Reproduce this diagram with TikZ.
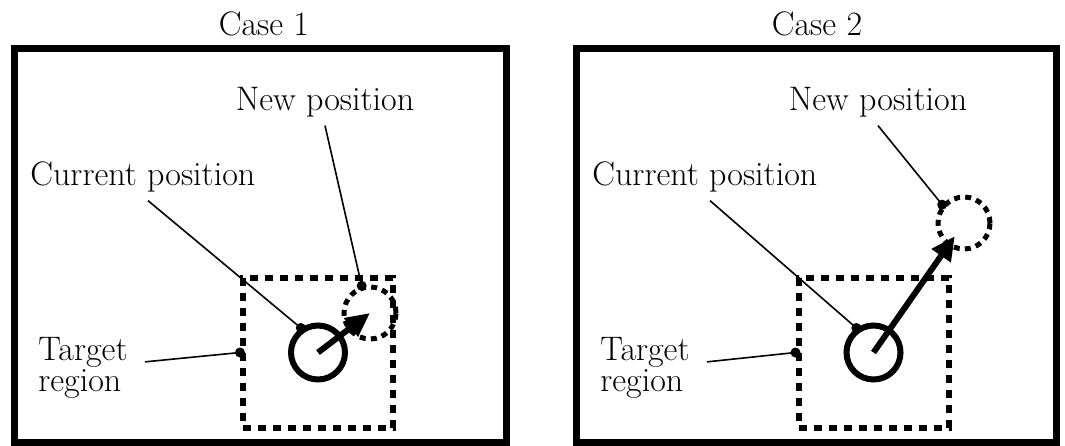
\documentclass[tikz,border=0pt]{standalone}
\usetikzlibrary{arrows.meta, positioning}

\begin{document}
\begin{tikzpicture}[x=0.5pt, y=-0.5pt, >={Triangle[length=12pt,width=11pt]},
      every node/.style={font=\fontsize{17}{14}\selectfont, inner sep=2pt},
      panel/.style={draw, line width=3.5pt, minimum height=197pt, inner sep=0pt},
      region/.style={draw, line width=3pt, dash pattern=on 4pt off 3.5pt, minimum size=75pt, inner sep=0pt},
      current/.style={circle, draw, line width=3pt, minimum size=27pt, inner sep=0pt},
      newpos/.style={circle, draw, line width=2.5pt, dash pattern=on 3pt off 2.6pt, minimum size=26pt, inner sep=0pt},
      move/.style={->, line width=3pt},
      leader/.style={line width=0.8pt}]
      \useasboundingbox (0,0) rectangle (1065,445);

      % Case 1
      \node[panel, minimum width=246pt] (box1) at (260,245) {};
      \node[anchor=base] (case1) at (264,35) {Case 1};
      \node[region] (sq1) at (318,352.5) {};
      \node[current] (cur1) at (sq1) {};
      \node[newpos] (new1) at (370,313) {};
      \node[anchor=base west] (curtxt1) at (26,185) {Current position};
      \node[anchor=base] (newtxt1) at (325,110) {New position};
      \node[anchor=north west, align=left] (trgtxt1) at (34,333) {Target\\region};
      \draw[move] (cur1.center) -- (new1.center);
      \draw[leader] ([xshift=61pt,yshift=-2.3pt]curtxt1.south west) -- (cur1.125);
      \draw[leader] ([yshift=-2.3pt]newtxt1.south) -- (new1.107);
      \draw[leader] ([xshift=6.5pt,yshift=3pt]trgtxt1.east) -- (sq1.west);
      \fill (cur1.125) circle[radius=2.5pt] (new1.107) circle[radius=2.5pt] (sq1.west) circle[radius=2.5pt];

      % Case 2
      \node[panel, minimum width=240pt] (box2) at (816,245) {};
      \node[anchor=base] (case2) at (817,35) {Case 2};
      \node[region] (sq2) at (873.5,352.5) {};
      \node[current] (cur2) at (sq2) {};
      \node[newpos] (new2) at (964,223) {};
      \node[anchor=base west] (curtxt2) at (588,185) {Current position};
      \node[anchor=base] (newtxt2) at (878,110) {New position};
      \node[anchor=north west, align=left] (trgtxt2) at (596,333) {Target\\region};
      \draw[move, shorten >=8pt] (cur2.center) -- (new2.center);
      \draw[leader] ([xshift=61pt,yshift=-2.3pt]curtxt2.south west) -- (cur2.125);
      \draw[leader] ([yshift=-2.3pt]newtxt2.south) -- (new2.140);
      \draw[leader] ([xshift=6.5pt,yshift=3pt]trgtxt2.east) -- (sq2.west);
      \fill (cur2.125) circle[radius=2.5pt] (new2.140) circle[radius=2.5pt] (sq2.west) circle[radius=2.5pt];
\end{tikzpicture}
\end{document}
